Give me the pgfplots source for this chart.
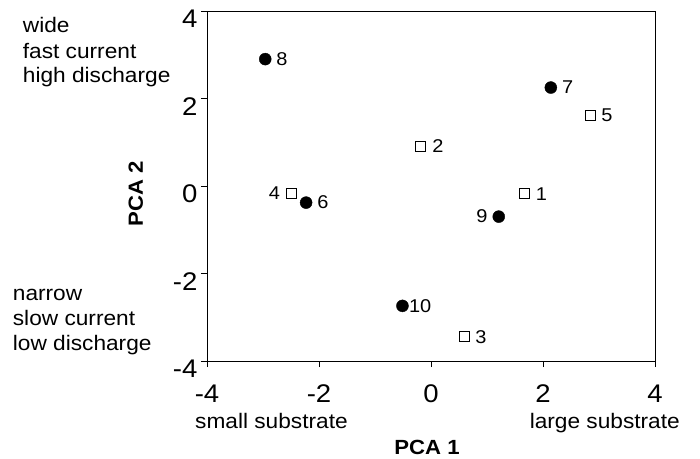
\documentclass[border=0pt]{standalone}
\usepackage{fontspec}
\setmainfont[FakeStretch=1.08]{Liberation Sans}
\usepackage{pgfplots}
\pgfplotsset{compat=1.18}
\usepackage{pgfplotstable}

\pgfplotstableread{
x y lab
1.67 -0.18 1
-0.18 0.91 2
0.59 -3.45 3
2.84 1.61 5
}\openright
\pgfplotstableread{
x y lab
-2.49 -0.17 4
}\openleft
\pgfplotstableread{
x y lab
-2.23 -0.38 6
2.14 2.25 7
-2.96 2.90 8
}\filledright
\pgfplotstableread{
x y lab
-0.51 -2.74 10
}\filledten
\pgfplotstableread{
x y lab
1.21 -0.70 9
}\filledleft

\begin{document}
\begin{tikzpicture}
\path[use as bounding box] (-207bp,-98bp) rectangle (493bp,361bp);
\begin{axis}[
  at={(0,0)}, anchor=south west,
  scale only axis, width=448bp, height=350bp,
  xmin=-4, xmax=4, ymin=-4, ymax=4,
  xtick={-4,-2,0,2,4}, ytick={-4,-2,0,2,4},
  tick align=outside, xtick pos=bottom, ytick pos=left,
  major tick length=6bp,
  axis line style={line width=0.9bp},
  every tick/.style={black, line width=0.9bp},
  tick label style={font=\fontsize{25.5bp}{30bp}\selectfont},
  xticklabel style={yshift=-14bp},
  yticklabel style={yshift=-8bp},
  /pgf/number format/assume math mode=true,
  clip=false,
  nodes near coords, point meta=explicit symbolic,
  every node near coord/.append style={inner xsep=11bp, inner ysep=0pt,
     font=\fontsize{18.5bp}{22bp}\selectfont, text=black},
  openmk/.style={only marks, mark=square, mark size=5bp,
     mark options={black, line width=0.9bp, fill=white}},
  fillmk/.style={only marks, mark=*, mark size=6bp,
     mark options={black, fill=black}},
]
\addplot[openmk, every node near coord/.append style={anchor=west}]
  table[x=x, y=y, meta=lab]{\openright};
\addplot[openmk, every node near coord/.append style={anchor=east}]
  table[x=x, y=y, meta=lab]{\openleft};
\addplot[fillmk, every node near coord/.append style={anchor=west}]
  table[x=x, y=y, meta=lab]{\filledright};
\addplot[fillmk, every node near coord/.append style={anchor=west, inner xsep=6.5bp}]
  table[x=x, y=y, meta=lab]{\filledten};
\addplot[fillmk, every node near coord/.append style={anchor=east}]
  table[x=x, y=y, meta=lab]{\filledleft};
\end{axis}
\begin{scope}[every node/.style={inner sep=0pt, font=\fontsize{21bp}{25bp}\selectfont}]
\node[anchor=base west] at (-184.3bp,328bp) {wide};
\node[anchor=base west] at (-184.3bp,302bp) {fast current};
\node[anchor=base west] at (-184.3bp,278bp) {high discharge};
\node[anchor=base west] at (-194.3bp,60.3bp) {narrow};
\node[anchor=base west] at (-194.3bp,36bp) {slow current};
\node[anchor=base west] at (-194.3bp,11bp) {low discharge};
\node[anchor=base west] at (-12bp,-67bp) {small substrate};
\node[anchor=base east] at (473bp,-67bp) {large substrate};
\end{scope}
\node[inner sep=0pt, anchor=base, font=\fontsize{20.5bp}{25bp}\selectfont\bfseries] at (220bp,-93bp) {PCA 1};
\node[inner sep=0pt, anchor=base, rotate=90, font=\fontsize{20.5bp}{25bp}\selectfont\bfseries] at (-64bp,167bp) {PCA 2};
\end{tikzpicture}
\end{document}
